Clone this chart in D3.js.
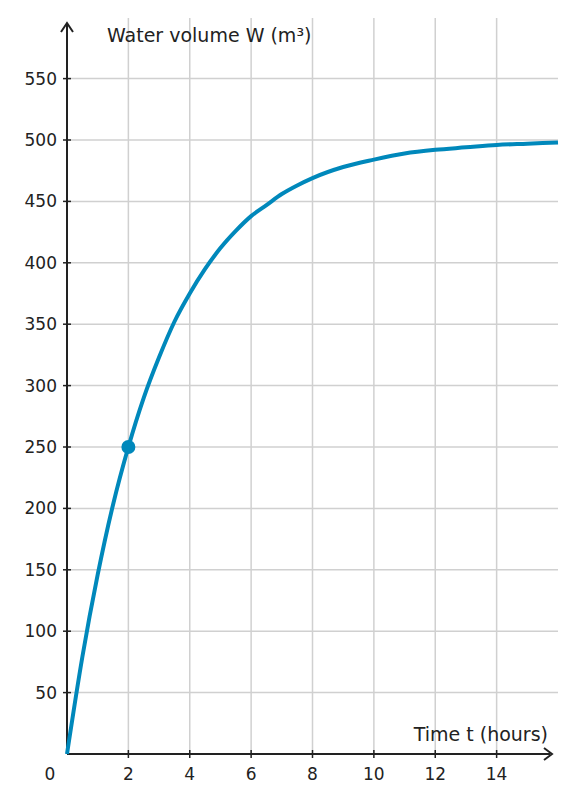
<!DOCTYPE html>
<html><head><meta charset="utf-8">
<script src="https://cdn.jsdelivr.net/npm/d3@7"></script>
<style>body{margin:0;background:#fff}</style>
</head><body><svg id="c" width="576" height="803" font-family="DejaVu Sans" fill="#222"></svg>
<script>
const times=[0,0.5,1,1.5,2,2.5,3,3.5,4,4.5,5,5.5,6,6.5,7,7.5,8,9,10,11,12,13,14,15,16];
const volumes=[0,79,146,203,250,290,323,352,375,395,412,426,438,447,456,463,469,478,484,489,492,494,496,497,498];
const xTicks=[2,4,6,8,10,12,14];
const yTicks=[50,100,150,200,250,300,350,400,450,500,550];
const marked={t:2,w:250};
const svg=d3.select("#c");
const x=d3.scaleLinear().domain([0,16]).range([67,558]);
const y=d3.scaleLinear().domain([0,500]).range([754,140]);
const g=svg.append("g");
g.selectAll(".vg").data(xTicks).join("line").attr("x1",d=>x(d)).attr("x2",d=>x(d)).attr("y1",18).attr("y2",754).attr("stroke","#d0d0d0").attr("stroke-width",1.5);
g.selectAll(".hg").data(yTicks).join("line").attr("x1",67).attr("x2",558).attr("y1",d=>y(d)).attr("y2",d=>y(d)).attr("stroke","#d0d0d0").attr("stroke-width",1.5);
svg.append("line").attr("x1",67).attr("x2",550).attr("y1",754).attr("y2",754).attr("stroke","#222").attr("stroke-width",2);
svg.append("line").attr("x1",67).attr("x2",67).attr("y1",754).attr("y2",24).attr("stroke","#222").attr("stroke-width",2);
svg.append("path").attr("d","M544,748 L552,754 L544,760").attr("fill","none").attr("stroke","#222").attr("stroke-width",2);
svg.append("path").attr("d","M61,32 L67,23 L73,32").attr("fill","none").attr("stroke","#222").attr("stroke-width",2);
svg.selectAll(".xt").data(xTicks).join("line").attr("x1",d=>x(d)).attr("x2",d=>x(d)).attr("y1",750).attr("y2",758).attr("stroke","#222").attr("stroke-width",1.5);
svg.selectAll(".yt").data(yTicks).join("line").attr("x1",63).attr("x2",71).attr("y1",d=>y(d)).attr("y2",d=>y(d)).attr("stroke","#222").attr("stroke-width",1.5);
const T=s=>s.append("text").attr("font-family","DejaVu Sans").attr("fill","#222");
svg.selectAll(".xl").data(xTicks).join("text").attr("font-family","DejaVu Sans").attr("fill","#222").attr("x",d=>x(d)).attr("y",780).attr("text-anchor","middle").attr("font-size",17).text(d=>d);
svg.selectAll(".yl").data(yTicks).join("text").attr("font-family","DejaVu Sans").attr("fill","#222").attr("x",57).attr("y",d=>y(d)+6).attr("text-anchor","end").attr("font-size",17).text(d=>d);
T(svg).attr("x",50).attr("y",780).attr("text-anchor","middle").attr("font-size",17).text("0");
T(svg).attr("x",107).attr("y",42).attr("font-size",19).text("Water volume W (m³)");
T(svg).attr("x",548).attr("y",741).attr("text-anchor","end").attr("font-size",19).text("Time t (hours)");
const line=d3.line().x((d,i)=>x(times[i])).y(d=>y(d)).curve(d3.curveMonotoneX);
svg.append("path").attr("d",line(volumes)).attr("fill","none").attr("stroke","#0088bb").attr("stroke-width",4);
svg.append("circle").attr("cx",x(marked.t)).attr("cy",y(marked.w)).attr("r",7).attr("fill","#0088bb");
</script></body></html>
